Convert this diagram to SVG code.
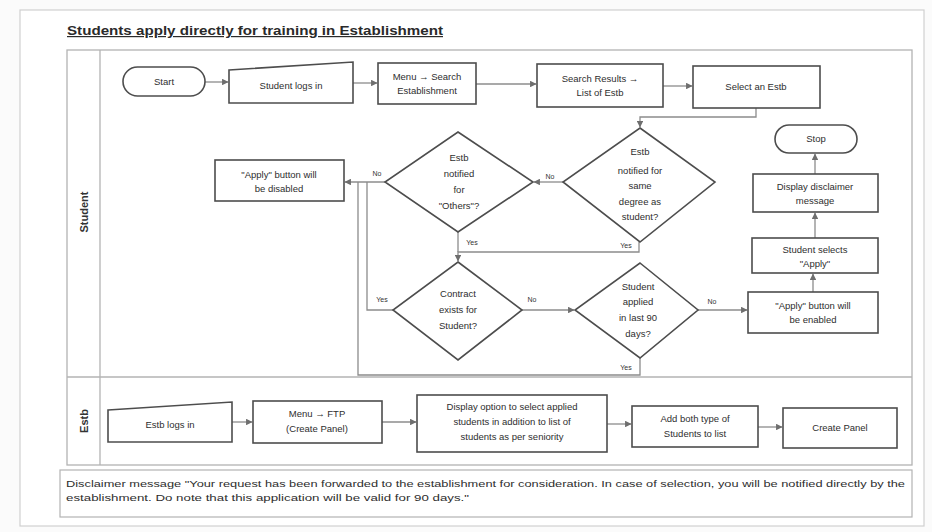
<svg xmlns="http://www.w3.org/2000/svg" width="932" height="532" viewBox="0 0 932 532">
<style>
.shape{fill:#fff;stroke:#4d4d4d;stroke-width:1.6}
.lane{fill:none;stroke:#b3b3b3;stroke-width:1.3}
.conn{fill:none;stroke:#8c8c8c;stroke-width:1.3}
.t{font-family:"Liberation Sans",Arial,sans-serif;font-size:9.5px;fill:#2e2e2e;text-anchor:middle}
.lbl{font-family:"Liberation Sans",Arial,sans-serif;font-size:7px;fill:#333;text-anchor:middle}
.hdr{font-family:"Liberation Sans",Arial,sans-serif;font-size:11px;font-weight:bold;fill:#333;text-anchor:middle}
.note{font-family:"Liberation Sans",Arial,sans-serif;font-size:9px;fill:#2e2e2e}
</style>
<defs>
<marker id="arr" viewBox="0 0 6 6" refX="5.5" refY="3" markerWidth="5" markerHeight="5" orient="auto">
<path d="M0,0 L6,3 L0,6 Z" fill="#6e6e6e"/>
</marker>
</defs>
<rect x="0" y="0" width="932" height="532" fill="#fbfbfb"/>
<rect x="20" y="10" width="904" height="516" fill="#ffffff" stroke="#d0d0d0" stroke-width="1.2"/>

<text x="67" y="35" font-family="Liberation Sans,Arial,sans-serif" font-size="12" font-weight="bold" fill="#2a2a2a" text-decoration="underline" textLength="376" lengthAdjust="spacingAndGlyphs">Students apply directly for training in Establishment</text>

<g id="pool">
<rect x="67" y="50" width="845" height="415" class="lane"/>
<line x1="100" y1="50" x2="100" y2="465" class="lane"/>
<line x1="67" y1="377" x2="912" y2="377" class="lane"/>
<text class="hdr" transform="translate(88,212) rotate(-90)">Student</text>
<text class="hdr" transform="translate(88,421) rotate(-90)">Estb</text>
</g>

<g id="connectors">
<path class="conn" d="M205,82 H228" marker-end="url(#arr)"/>
<path class="conn" d="M353,83 H377" marker-end="url(#arr)"/>
<path class="conn" d="M476,84 H536" marker-end="url(#arr)"/>
<path class="conn" d="M663,86 H692" marker-end="url(#arr)"/>
<path class="conn" d="M756,108 V117 H640 V127" marker-end="url(#arr)"/>
<path class="conn" d="M563,182 H534" marker-end="url(#arr)"/>
<path class="conn" d="M385,182 H345" marker-end="url(#arr)"/>
<path class="conn" d="M458,232 V252"/>
<path class="conn" d="M639,242 V252 H458 V261" marker-end="url(#arr)"/>
<path class="conn" d="M393,310 H367 V182"/>
<path class="conn" d="M522,310 H574" marker-end="url(#arr)"/>
<path class="conn" d="M640,358 V375 H358 V182"/>
<path class="conn" d="M698,310 H747" marker-end="url(#arr)"/>
<path class="conn" d="M813,292 V274" marker-end="url(#arr)"/>
<path class="conn" d="M815,238 V213" marker-end="url(#arr)"/>
<path class="conn" d="M815,174 V154" marker-end="url(#arr)"/>
<path class="conn" d="M232,422 H252" marker-end="url(#arr)"/>
<path class="conn" d="M382,422 H416" marker-end="url(#arr)"/>
<path class="conn" d="M607,424 H631" marker-end="url(#arr)"/>
<path class="conn" d="M758,427 H782" marker-end="url(#arr)"/>
<text class="lbl" x="550" y="179">No</text>
<text class="lbl" x="377" y="176">No</text>
<text class="lbl" x="472" y="245">Yes</text>
<text class="lbl" x="626" y="248">Yes</text>
<text class="lbl" x="382" y="302">Yes</text>
<text class="lbl" x="532" y="302">No</text>
<text class="lbl" x="712" y="304">No</text>
<text class="lbl" x="626" y="370">Yes</text>
</g>

<g id="start">
<rect class="shape" x="123" y="67" width="82" height="29" rx="14.5"/>
<text class="t" x="164" y="85">Start</text>
</g>
<g id="student-logs-in">
<polygon class="shape" points="229,70 353,62 353,103 229,103"/>
<text class="t" x="291" y="89">Student logs in</text>
</g>
<g id="menu-search">
<rect class="shape" x="378" y="63" width="98" height="41"/>
<text class="t" x="427" y="80">Menu → Search</text>
<text class="t" x="427" y="94">Establishment</text>
</g>
<g id="search-results">
<rect class="shape" x="537" y="64" width="126" height="43"/>
<text class="t" x="600" y="82">Search Results →</text>
<text class="t" x="600" y="96">List of Estb</text>
</g>
<g id="select-estb">
<rect class="shape" x="693" y="66" width="127" height="42"/>
<text class="t" x="756" y="90">Select an Estb</text>
</g>
<g id="stop">
<rect class="shape" x="775" y="125" width="82" height="28" rx="14"/>
<text class="t" x="816" y="142">Stop</text>
</g>
<g id="display-disclaimer">
<rect class="shape" x="753" y="174" width="125" height="38"/>
<text class="t" x="815" y="190">Display disclaimer</text>
<text class="t" x="815" y="204">message</text>
</g>
<g id="student-selects">
<rect class="shape" x="752" y="238" width="126" height="35"/>
<text class="t" x="815" y="253">Student selects</text>
<text class="t" x="815" y="267">"Apply"</text>
</g>
<g id="apply-enabled">
<rect class="shape" x="748" y="292" width="130" height="41"/>
<text class="t" x="813" y="309">"Apply" button will</text>
<text class="t" x="813" y="323">be enabled</text>
</g>
<g id="apply-disabled">
<rect class="shape" x="215" y="160" width="129" height="41"/>
<text class="t" x="279" y="178">"Apply" button will</text>
<text class="t" x="279" y="192">be disabled</text>
</g>
<g id="dec-others">
<polygon class="shape" points="458,132 533,182 458,232 385,182"/>
<text class="t" x="459" y="161">Estb</text>
<text class="t" x="459" y="177">notified</text>
<text class="t" x="459" y="193">for</text>
<text class="t" x="459" y="209">"Others"?</text>
</g>
<g id="dec-same-degree">
<polygon class="shape" points="640,128 715,182 640,242 563,182"/>
<text class="t" x="640" y="155">Estb</text>
<text class="t" x="640" y="174">notified for</text>
<text class="t" x="640" y="189">same</text>
<text class="t" x="640" y="205">degree as</text>
<text class="t" x="640" y="220">student?</text>
</g>
<g id="dec-contract">
<polygon class="shape" points="458,262 522,310 458,360 393,310"/>
<text class="t" x="458" y="297">Contract</text>
<text class="t" x="458" y="313">exists for</text>
<text class="t" x="458" y="329">Student?</text>
</g>
<g id="dec-applied">
<polygon class="shape" points="640,263 698,310 640,358 575,310"/>
<text class="t" x="638" y="290">Student</text>
<text class="t" x="638" y="305">applied</text>
<text class="t" x="638" y="321">in last 90</text>
<text class="t" x="638" y="337">days?</text>
</g>

<g id="estb-logs-in">
<polygon class="shape" points="108,410 232,402 232,442 108,442"/>
<text class="t" x="170" y="428">Estb logs in</text>
</g>
<g id="menu-ftp">
<rect class="shape" x="253" y="401" width="129" height="42"/>
<text class="t" x="317" y="417">Menu → FTP</text>
<text class="t" x="317" y="432">(Create Panel)</text>
</g>
<g id="display-option">
<rect class="shape" x="417" y="395" width="190" height="57"/>
<text class="t" x="512" y="410">Display option to select applied</text>
<text class="t" x="512" y="425">students in addition to list of</text>
<text class="t" x="512" y="440">students as per seniority</text>
</g>
<g id="add-both">
<rect class="shape" x="632" y="406" width="126" height="41"/>
<text class="t" x="695" y="422">Add both type of</text>
<text class="t" x="695" y="437">Students to list</text>
</g>
<g id="create-panel">
<rect class="shape" x="783" y="408" width="114" height="40"/>
<text class="t" x="840" y="431">Create Panel</text>
</g>

<g id="disclaimer">
<rect x="60" y="470" width="852" height="47" fill="#fff" stroke="#b3b3b3" stroke-width="1.2"/>
<text class="note" x="66" y="487" textLength="839" lengthAdjust="spacingAndGlyphs">Disclaimer message "Your request has been forwarded to the establishment for consideration. In case of selection, you will be notified directly by the</text>
<text class="note" x="66" y="501" textLength="403" lengthAdjust="spacingAndGlyphs">establishment. Do note that this application will be valid for 90 days."</text>
</g>
</svg>
